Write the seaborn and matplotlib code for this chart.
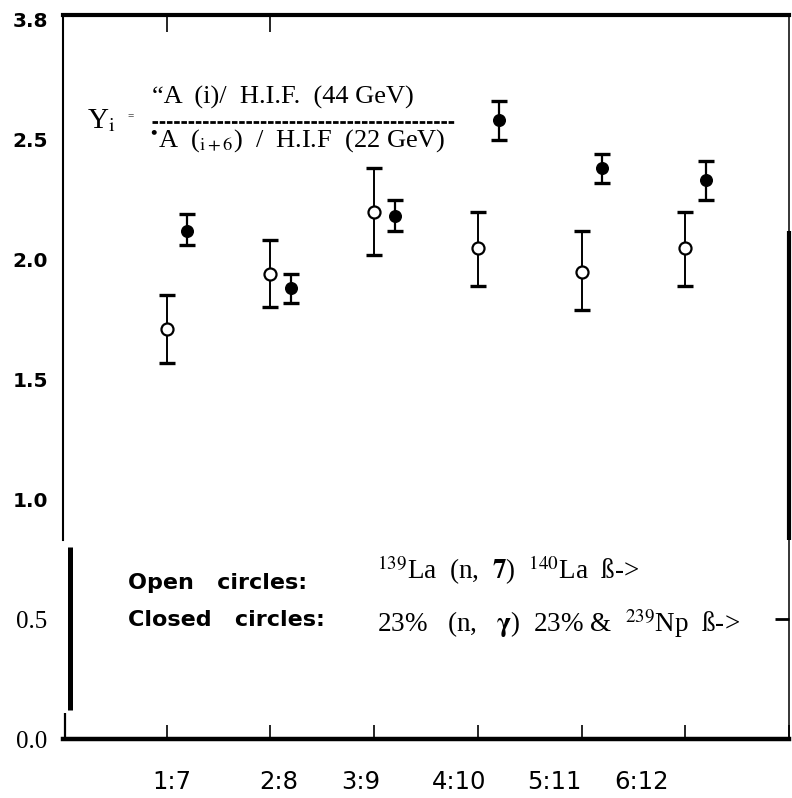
import matplotlib
matplotlib.use("Agg")
import matplotlib.pyplot as plt
import seaborn as sns
import numpy as np
import pandas as pd

# ---------------- data ----------------
categories = ["1:7", "2:8", "3:9", "4:10", "5:11", "6:12"]
open_y  = [1.71, 1.94, 2.20, 2.05, 1.95, 2.05]
open_lo = [1.57, 1.80, 2.02, 1.89, 1.79, 1.89]
open_hi = [1.85, 2.08, 2.38, 2.20, 2.12, 2.20]
closed_y  = [2.12, 1.88, 2.18, 2.58, 2.38, 2.33]
closed_lo = [2.06, 1.82, 2.12, 2.50, 2.32, 2.25]
closed_hi = [2.19, 1.94, 2.25, 2.66, 2.44, 2.41]
ytick_vals = [0.0, 0.5, 1.0, 1.5, 2.0, 2.5, 3.0]
ytick_labels = ["0.0", "0.5", "1.0", "1.5", "2.0", "2.5", "3.8"]

# ---------------- layout ----------------
label_pos = [1.05, 2.08, 2.87, 3.82, 4.74, 5.58]
closed_offset = 0.2

sns.set_theme(style="white")
plt.rcParams["mathtext.fontset"] = "stix"
plt.rcParams["font.family"] = ["DejaVu Sans"]
for k in ["text.color", "axes.labelcolor", "xtick.color", "ytick.color", "axes.edgecolor"]:
    plt.rcParams[k] = "black"

W, H = 792, 798
fig = plt.figure(figsize=(W / 100, H / 100), dpi=100)
ax = fig.add_axes([63 / W, (H - 739) / H, (789 - 63) / W, (739 - 15) / H])
ax.set_facecolor("white")

idx = np.arange(1, len(categories) + 1)
df_open = pd.DataFrame({"x": idx, "y": open_y})
df_closed = pd.DataFrame({"x": idx + closed_offset, "y": closed_y})

oy = np.array(open_y); cy = np.array(closed_y)
ax.errorbar(df_open["x"], oy, yerr=[oy - np.array(open_lo), np.array(open_hi) - oy],
            fmt="none", ecolor="black", elinewidth=1.4, capsize=5.5, capthick=2.4, zorder=2)
ax.errorbar(df_closed["x"], cy, yerr=[cy - np.array(closed_lo), np.array(closed_hi) - cy],
            fmt="none", ecolor="black", elinewidth=1.6, capsize=5.5, capthick=2.4, zorder=2)

sns.scatterplot(data=df_open, x="x", y="y", ax=ax, s=75, marker="o",
                facecolor="white", edgecolor="black", linewidth=1.6, zorder=3, legend=False)
sns.scatterplot(data=df_closed, x="x", y="y", ax=ax, s=70, marker="o",
                color="black", edgecolor="black", linewidth=1, zorder=3, legend=False)

ax.set_xlim(0, 7)
ax.set_ylim(0, 3.02)
ax.set_xlabel("")
ax.set_ylabel("")

# y ticks
ax.set_yticks(ytick_vals, ytick_labels)
for val, t in zip(ytick_vals, ax.get_yticklabels()):
    if val < 0.75:
        t.set_fontfamily("Liberation Serif")
        t.set_fontsize(18)
        t.set_fontweight("normal")
    else:
        t.set_fontfamily("DejaVu Sans")
        t.set_fontsize(14.5)
        t.set_fontweight("bold")
ax.tick_params(axis="y", length=0, pad=11, colors="black")

# x ticks: labels at label_pos, marks at integer positions
ax.set_xticks(label_pos, categories)
for t in ax.get_xticklabels():
    t.set_fontfamily("DejaVu Sans")
    t.set_fontsize(17.5)
ax.tick_params(axis="x", which="major", length=0, pad=22, colors="black")
ax.set_xticks(np.arange(1, 8), minor=True)
ax.tick_params(axis="x", which="minor", direction="in", length=10, width=1.2,
               bottom=True, color="black")

sec_top = ax.secondary_xaxis("top")
sec_top.set_xticks([1, 2])
sec_top.set_xticklabels([])
sec_top.tick_params(direction="in", length=12, width=1.2, labeltop=False, color="black")
sec_top.spines["top"].set_visible(False)

sec_right = ax.secondary_yaxis("right")
sec_right.set_yticks([0.5])
sec_right.set_yticklabels([])
sec_right.tick_params(direction="in", length=10, width=2, color="black")
sec_right.spines["right"].set_visible(False)

# spines (scan-like)
ax.spines["top"].set_linewidth(3.0)
ax.spines["bottom"].set_linewidth(3.2)
ax.spines["left"].set_linewidth(1.5)
ax.spines["left"].set_bounds(0.83, 3.02)
ax.spines["right"].set_linewidth(1.1)
ax.vlines(0.068, 0.12, 0.80, color="black", lw=3.6, clip_on=False, zorder=4)
ax.vlines(0.02, 0.0, 0.11, color="black", lw=1.6, clip_on=False, zorder=4)
ax.vlines(7.0, 0.83, 2.12, color="black", lw=3.0, clip_on=False, zorder=4)

# formula
serif = ["Liberation Serif", "DejaVu Serif"]
ax.text(0.23, 2.55, r"Y$_{\mathrm{i}}$", family=serif, fontsize=21, ha="left", va="baseline")
ax.text(0.62, 2.60, "=", family=serif, fontsize=8, ha="left", va="center")
ax.text(0.86, 2.65, "\u201cA  (i)/  H.I.F.  (44 GeV)", family=serif, fontsize=19,
        ha="left", va="baseline")
ax.plot([0.86, 3.78], [2.574, 2.574], color="black", lw=2.0, ls=(0, (2.0, 0.6)))
ax.text(0.84, 2.47, r"$^{\bullet}$A  ($_{\mathrm{i+6}}$)  /  H.I.F  (22 GeV)", family=serif,
        fontsize=19, ha="left", va="baseline")

# legend-like annotations
ax.text(0.627, 0.626, "Open   circles:", family="DejaVu Sans", fontweight="bold",
        fontsize=16, ha="left", va="baseline")
ax.text(0.627, 0.471, "Closed   circles:", family="DejaVu Sans", fontweight="bold",
        fontsize=16, ha="left", va="baseline")
ax.text(3.03, 0.667, r"$^{139}$La  (n,  $\mathbf{7}$)  $^{140}$La  ß->", family=serif,
        fontsize=19.5, ha="left", va="baseline")
ax.text(3.03, 0.446, r"23%   (n,   $\mathbf{\gamma}$)  23% &  $^{239}$Np  ß->", family=serif,
        fontsize=19.5, ha="left", va="baseline")

fig.savefig("out.png", dpi=100, facecolor="white")
